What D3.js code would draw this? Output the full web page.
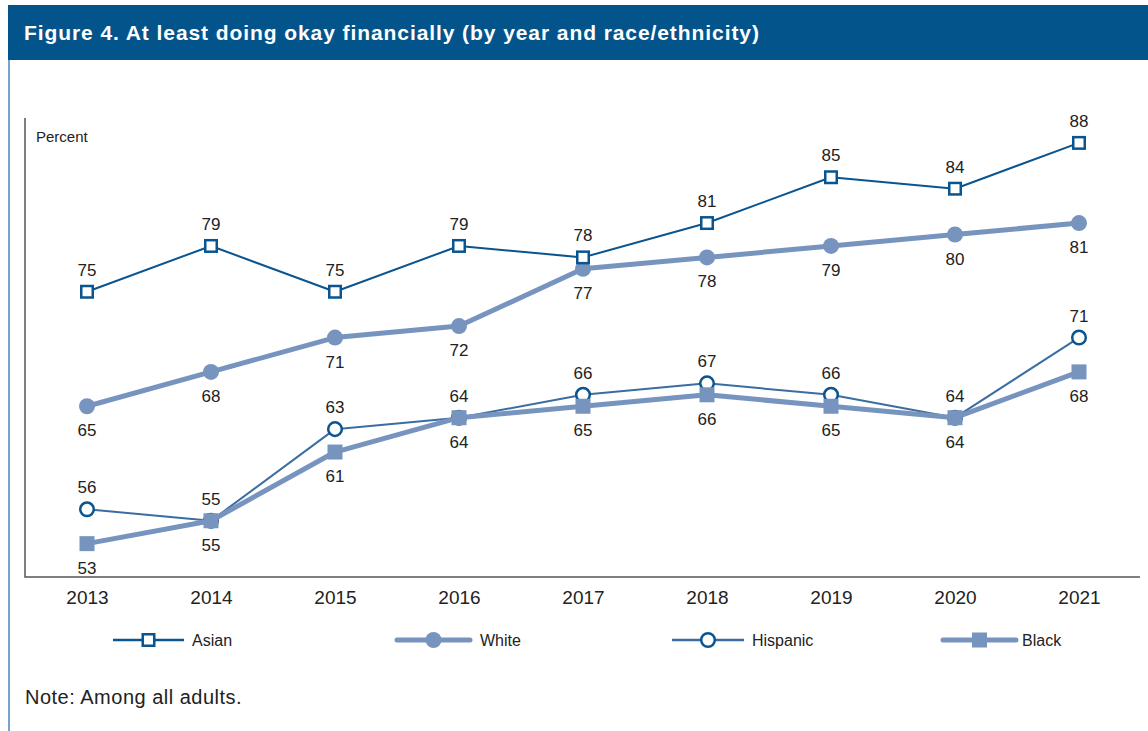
<!DOCTYPE html>
<html><head><meta charset="utf-8">
<script src="https://cdn.jsdelivr.net/npm/d3@7"></script>
<style>
body{margin:0;background:#fff;}
svg{display:block;}
</style></head>
<body>
<svg id="c" width="1148" height="731"></svg>
<script>
const years = ["2013","2014","2015","2016","2017","2018","2019","2020","2021"];
const asian    = [75,79,75,79,78,81,85,84,88];
const white    = [65,68,71,72,77,78,79,80,81];
const hispanic = [56,55,63,64,66,67,66,64,71];
const black    = [53,55,61,64,65,66,65,64,68];
const title = "Figure 4. At least doing okay financially (by year and race/ethnicity)";
const note = "Note: Among all adults.";
const yLabel = "Percent";

const dark = "#0a5590", light = "#7794bf", mid = "#3a6ea3";
const font = "'Liberation Sans',Arial,sans-serif";
const svg = d3.select("#c");

svg.append("rect").attr("x",8).attr("y",5).attr("width",1140).attr("height",55).attr("fill","#02548b");
svg.append("text").attr("x",24).attr("y",40).attr("fill","#fff").attr("font-family",font)
  .attr("font-weight","bold").attr("font-size",21).attr("letter-spacing",0.92).text(title);
svg.append("line").attr("x1",9).attr("x2",9).attr("y1",60).attr("y2",731).attr("stroke","#4f84b8").attr("stroke-width",1.5);

const x = d3.scalePoint().domain(years).range([87,1079]);
const y = d3.scaleLinear().domain([50,90]).range([578,120]);

const gx = svg.append("g").attr("transform","translate(0,577)")
  .call(d3.axisBottom(x).tickSize(0).tickPadding(14));
gx.select(".domain").remove();
gx.selectAll("text").attr("font-family",font).attr("font-size",19).attr("fill","#222");
svg.append("path").attr("d",`M25,118V577H1140`).attr("fill","none").attr("stroke","#555").attr("stroke-width",1.5);
svg.append("text").attr("x",36).attr("y",142).attr("font-family",font).attr("font-size",15).attr("fill","#222").text(yLabel);

const series = [
  {name:"Black", vals:black, color:light, lw:5, marker:"sq", fill:light, stroke:"none", size:15, pos:"below"},
  {name:"Hispanic", vals:hispanic, color:mid, lw:2, marker:"circ", fill:"#fff", stroke:dark, size:8, pos:"above"},
  {name:"White", vals:white, color:light, lw:5, marker:"circ", fill:light, stroke:"none", size:8, pos:"below"},
  {name:"Asian", vals:asian, color:dark, lw:2, marker:"sq", fill:"#fff", stroke:dark, size:14, pos:"above"}
];
const line = d3.line().x((d,i)=>x(years[i])).y(d=>y(d));

function marker(g, s, cx, cy){
  if(s.marker==="sq"){
    const h = s.stroke==="none" ? s.size/2 : (s.size-2.5)/2;
    g.append("rect").attr("x",cx-h).attr("y",cy-h).attr("width",2*h).attr("height",2*h)
      .attr("fill",s.fill).attr("stroke",s.stroke).attr("stroke-width",2.5);
  } else {
    const r = s.stroke==="none" ? s.size : s.size-1.2;
    g.append("circle").attr("cx",cx).attr("cy",cy).attr("r",r)
      .attr("fill",s.fill).attr("stroke",s.stroke).attr("stroke-width",2.5);
  }
}

const order = ["White","Hispanic","Black","Asian"];
order.forEach(nm=>{
  const s = series.find(d=>d.name===nm);
  const g = svg.append("g");
  g.append("path").datum(s.vals).attr("d",line).attr("fill","none").attr("stroke",s.color).attr("stroke-width",s.lw).attr("stroke-linejoin","round");
  s.vals.forEach((v,i)=>marker(g,s,x(years[i]),y(v)));
});
order.forEach(nm=>{
  const s = series.find(d=>d.name===nm);
  s.vals.forEach((v,i)=>{
    svg.append("text").attr("x",x(years[i])).attr("y",y(v)+(s.pos==="above"?-16:30))
      .attr("text-anchor","middle").attr("font-family",font).attr("font-size",17).attr("fill","#222").text(v);
  });
});

const leg = [
  {s:"Asian", x0:113, x1:184, tx:192},
  {s:"White", x0:397, x1:470, tx:480},
  {s:"Hispanic", x0:672, x1:744, tx:752},
  {s:"Black", x0:943, x1:1016, tx:1022}
];
leg.forEach(l=>{
  const s = series.find(d=>d.name===l.s);
  const g = svg.append("g");
  g.append("line").attr("x1",l.x0).attr("x2",l.x1).attr("y1",640).attr("y2",640).attr("stroke",s.name==="Hispanic"?mid:s.color)
    .attr("stroke-width",s.lw===5?5:2.5).attr("stroke-linecap",s.lw===5?"round":"butt");
  marker(g,s,(l.x0+l.x1)/2,640);
  g.append("text").attr("x",l.tx).attr("y",646).attr("font-family",font).attr("font-size",16).attr("fill","#222").text(l.s);
});

svg.append("text").attr("x",25).attr("y",704).attr("font-family",font).attr("font-size",20).attr("letter-spacing",0.5).attr("fill","#222").text(note);
</script>
</body></html>
